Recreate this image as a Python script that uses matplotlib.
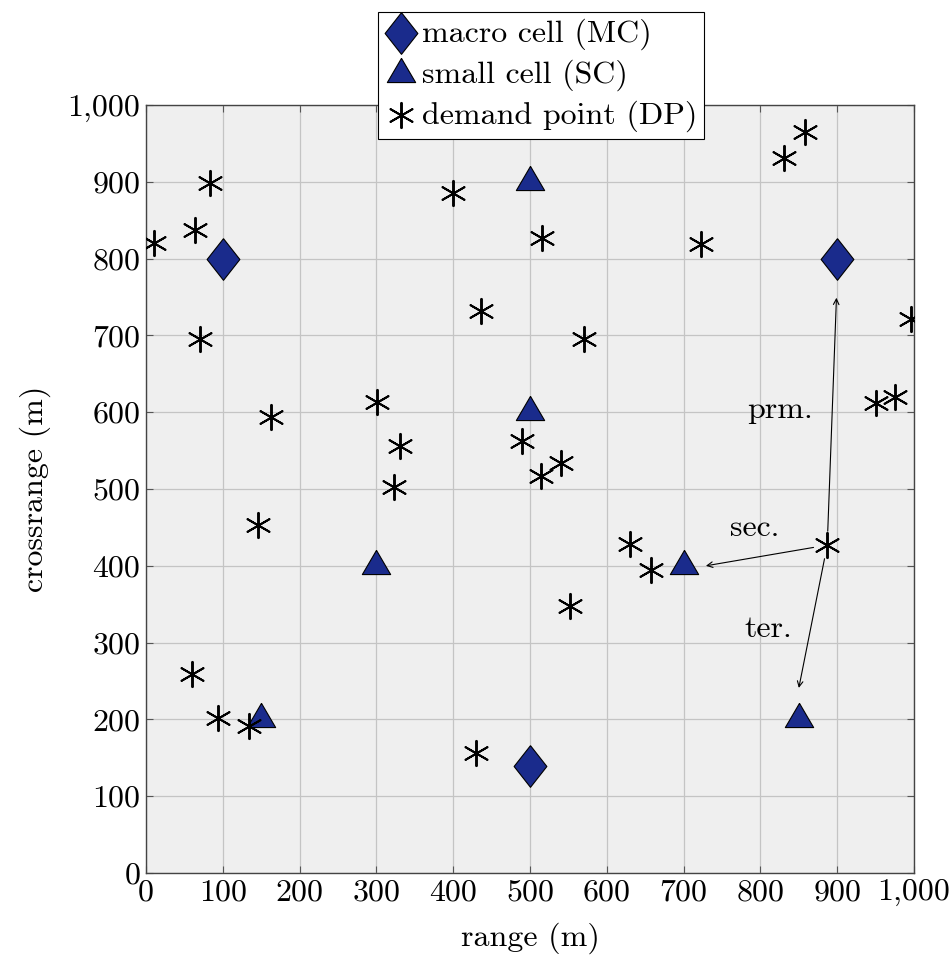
import matplotlib.pyplot as plt
from matplotlib.ticker import FuncFormatter, MultipleLocator

plt.rcParams.update({
    'font.family': 'serif',
    'font.serif': ['cmr10'],
    'mathtext.fontset': 'cm',
    'axes.unicode_minus': False,
    'font.size': 23,
})

# station and demand point layout (metres)
mc_x = [100, 900, 500]
mc_y = [800, 800, 140]
sc_x = [500, 500, 300, 700, 150, 850]
sc_y = [900, 600, 400, 400, 200, 200]
dp_x = [10, 83, 64, 70, 163, 146, 60, 94, 134, 400, 436, 516, 570, 301, 331,
        323, 490, 514, 540, 552, 430, 630, 658, 723, 831, 858, 996, 950, 975, 887]
dp_y = [820, 898, 837, 695, 594, 453, 259, 202, 191, 885, 732, 827, 695, 613, 556,
        503, 563, 517, 534, 348, 156, 428, 395, 819, 931, 965, 721, 612, 620, 427]

# association links from one demand point
link_src = (887, 427)
link_dst = [(899, 749), (729, 400), (850, 241)]
link_txt = ['prm.', 'sec.', 'ter.']
link_txt_pos = [(825, 603), (793, 449), (810, 318)]

blue = '#1a2b8c'
# tall diamond and centroid-centred triangle
diamond = [(0, 1), (0.786, 0), (0, -1), (-0.786, 0), (0, 1)]
triangle = [(0, 1.14), (1.0, -0.57), (-1.0, -0.57), (0, 1.14)]

fig = plt.figure(figsize=(9.52, 9.65), dpi=100)
ax = fig.add_axes([0.1534, 0.0953, 0.8067, 0.7959])
ax.set_facecolor('#efefef')

ax.scatter(mc_x, mc_y, marker=diamond, s=900, color=blue, edgecolor='black',
           linewidth=0.8, zorder=3, label='macro cell (MC)')
ax.scatter(sc_x, sc_y, marker=triangle, s=540, color=blue, edgecolor='black',
           linewidth=0.8, zorder=3, label='small cell (SC)')
ax.scatter(dp_x, dp_y, marker=(6, 2, 0), s=330, color='black',
           linewidth=1.4, zorder=3, label='demand point (DP)')

for dst, txt, pos in zip(link_dst, link_txt, link_txt_pos):
    ax.annotate('', xy=dst, xytext=link_src,
                arrowprops=dict(arrowstyle='->', color='black', lw=0.8,
                                shrinkA=10, shrinkB=0, mutation_scale=10),
                zorder=4)
    ax.text(pos[0], pos[1], txt, ha='center', va='center', fontsize=23)

ax.set_xlim(0, 1000)
ax.set_ylim(0, 1000)
ax.xaxis.set_major_locator(MultipleLocator(100))
ax.yaxis.set_major_locator(MultipleLocator(100))
fmt = FuncFormatter(lambda v, p: f'{int(v):,}')
ax.xaxis.set_major_formatter(fmt)
ax.yaxis.set_major_formatter(fmt)
ax.tick_params(direction='in', length=5, width=0.8, color='#555555',
               top=True, right=True, labelsize=23, pad=4)
ax.grid(True, color='#c4c4c4', linewidth=0.9)
ax.set_axisbelow(True)
for sp in ax.spines.values():
    sp.set_color('#444444')
    sp.set_linewidth(1.0)

ax.set_xlabel('range (m)', fontsize=23, labelpad=12)
ax.set_ylabel('crossrange (m)', fontsize=23, labelpad=12)

leg = ax.legend(loc='upper center', bbox_to_anchor=(0.514, 1.121), fontsize=23,
                frameon=True, fancybox=False, edgecolor='black', framealpha=1,
                handletextpad=0.1, handlelength=1.1, borderpad=0.2,
                labelspacing=0.3, borderaxespad=0)
leg.get_frame().set_linewidth(0.8)
leg.set_zorder(5)

fig.savefig('out.png', dpi=100)
